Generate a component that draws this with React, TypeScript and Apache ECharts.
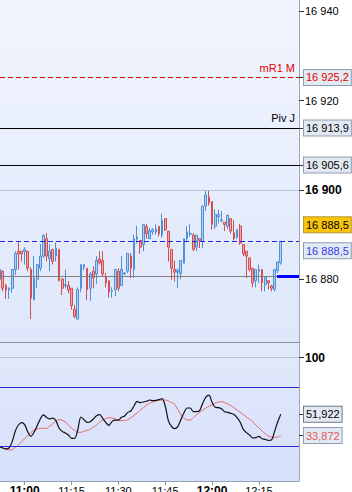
import React, { useEffect, useRef } from 'react';
import * as echarts from 'echarts';

const FONT = "'Liberation Sans', Arial, sans-serif";

const times = [
  '10:52','10:53','10:54','10:55','10:56','10:57','10:58','10:59',
  '11:00','11:01','11:02','11:03','11:04','11:05','11:06','11:07','11:08','11:09',
  '11:10','11:11','11:12','11:13','11:14','11:15','11:16','11:17','11:18','11:19',
  '11:20','11:21','11:22','11:23','11:24','11:25','11:26','11:27','11:28','11:29',
  '11:30','11:31','11:32','11:33','11:34','11:35','11:36','11:37','11:38','11:39',
  '11:40','11:41','11:42','11:43','11:44','11:45','11:46','11:47','11:48','11:49',
  '11:50','11:51','11:52','11:53','11:54','11:55','11:56','11:57','11:58','11:59',
  '12:00','12:01','12:02','12:03','12:04','12:05','12:06','12:07','12:08','12:09',
  '12:10','12:11','12:12','12:13','12:14','12:15','12:16','12:17','12:18','12:19',
  '12:20','12:21','12:22'
];

const opens = [16880.0,16881.8,16878.6,16877.6,16878.0,16882.2,16886.3,16886.3,16886.2,16886.3,
16882.2,16875.4,16880.0,16882.5,16885.2,16889.1,16884.6,16886.7,16885.2,16886.7,
16880.1,16878.6,16878.6,16878.0,16873.3,16871.1,16878.0,16882.7,16882.5,16878.0,
16881.8,16881.2,16884.6,16884.2,16880.5,16879.7,16877.3,16877.7,16881.8,16878.6,
16881.2,16881.8,16885.2,16882.2,16889.0,16888.7,16887.8,16891.8,16889.1,16890.6,
16890.6,16891.9,16889.9,16893.6,16890.8,16886.7,16882.2,16881.6,16881.3,16883.6,
16889.1,16890.1,16889.9,16887.2,16889.1,16888.5,16896.4,16898.4,16897.4,16891.9,
16894.0,16893.1,16892.8,16891.9,16893.6,16890.4,16889.4,16891.9,16887.8,16886.3,
16884.8,16882.5,16879.7,16881.8,16882.2,16878.8,16879.7,16878.5,16877.7,16882.0,
16883.7];

const closes = [16882.2,16878.0,16877.6,16878.0,16882.2,16885.8,16885.7,16885.7,16886.7,16882.5,
16875.8,16880.3,16883.3,16885.2,16889.9,16885.2,16886.3,16884.0,16887.0,16879.7,
16878.0,16878.8,16877.6,16874.1,16871.7,16877.7,16883.3,16883.3,16877.7,16881.2,
16880.4,16884.2,16883.7,16881.2,16879.2,16877.1,16877.5,16882.2,16878.0,16882.2,
16881.4,16885.8,16882.5,16889.1,16889.5,16887.2,16892.3,16890.2,16890.8,16891.1,
16891.3,16890.2,16893.2,16891.1,16887.2,16882.5,16881.6,16882.0,16884.2,16889.1,
16890.6,16890.3,16886.7,16889.9,16888.7,16896.4,16898.9,16897.1,16892.3,16894.5,
16894.5,16893.3,16892.3,16894.3,16890.8,16889.1,16891.1,16888.1,16885.7,16885.2,
16882.2,16879.2,16882.2,16882.2,16879.2,16880.4,16879.2,16878.0,16882.2,16883.9,
16888.5];

const lows = [16878.0,16877.3,16875.6,16875.6,16877.0,16881.0,16882.2,16884.0,16883.3,16881.8,
16871.1,16875.4,16878.0,16881.8,16884.8,16884.0,16881.8,16883.3,16884.0,16879.6,
16876.5,16878.0,16876.9,16873.2,16871.3,16871.1,16877.1,16882.0,16875.4,16875.2,
16878.0,16879.0,16883.3,16880.7,16878.2,16875.9,16875.9,16876.2,16877.3,16878.6,
16881.0,16881.4,16880.3,16880.3,16888.0,16885.7,16886.3,16889.1,16889.0,16890.0,
16890.0,16889.6,16889.3,16890.8,16884.0,16879.9,16879.5,16878.0,16880.0,16883.6,
16888.5,16889.5,16886.3,16886.3,16887.0,16887.0,16895.3,16896.5,16891.1,16891.2,
16892.5,16892.8,16890.8,16891.3,16890.2,16888.7,16889.0,16887.7,16885.2,16880.3,
16881.8,16878.2,16878.2,16879.2,16877.3,16877.3,16877.7,16877.3,16877.3,16881.4,
16883.3];

const highs = [16882.4,16882.0,16879.0,16878.2,16882.2,16886.3,16888.3,16886.3,16887.2,16886.3,
16882.7,16885.2,16883.3,16887.9,16889.9,16890.4,16887.9,16886.7,16888.3,16886.7,
16880.1,16882.2,16879.6,16878.0,16874.3,16878.2,16883.3,16883.5,16882.5,16881.6,
16882.9,16885.2,16886.3,16886.3,16881.4,16879.7,16878.2,16882.2,16882.5,16885.2,
16881.6,16885.8,16885.9,16890.0,16892.0,16888.7,16892.3,16892.4,16891.5,16891.5,
16892.3,16891.9,16894.7,16893.6,16890.8,16886.7,16884.2,16882.4,16884.2,16889.1,
16891.9,16892.3,16890.4,16889.9,16889.1,16896.4,16900.0,16900.0,16897.4,16895.6,
16895.6,16895.3,16892.8,16894.5,16893.6,16893.2,16891.1,16892.4,16887.8,16886.3,
16884.8,16882.5,16882.2,16883.3,16882.2,16880.5,16879.7,16878.8,16882.2,16883.9,
16888.5];

const oscFast = [24.4,23.3,22.5,23.3,28.7,37.7,42.8,44.8,43.1,36.9,
33.2,36.6,42.2,47.9,51.3,49.3,47.9,48.7,46.5,40.3,
37.4,36.0,34.3,31.5,31.5,38.8,49.6,47.3,45.1,45.6,
47.9,50.7,51.6,48.4,44.8,42.5,45.9,47.0,47.0,49.3,
50.4,53.5,54.7,58.9,62.9,61.7,62.3,62.9,64.0,63.4,
63.7,64.3,65.1,58.9,46.5,41.7,39.7,41.4,47.3,53.2,
57.2,57.2,54.1,54.1,54.9,61.2,66.5,68.2,62.0,57.8,
57.5,56.6,54.1,53.5,52.7,51.6,49.0,45.1,39.1,36.3,
34.3,31.8,32.1,33.2,31.2,30.6,29.8,30.1,37.2,45.3,
51.922];

const oscSlow = [24.4,23.3,22.2,21.6,21.9,23.9,25.8,28.7,31.2,33.75,
36.3,38.6,39.4,40.0,40.0,40.0,41.95,43.6,46.5,47.3,
46.8,45.3,42.8,40.0,38.3,36.6,36.6,37.4,38.3,39.1,
41.1,42.8,45.3,47.0,48.4,49.0,48.7,47.9,47.0,46.5,
46.5,47.3,49.0,51.0,53.0,55.2,57.5,59.7,61.2,62.3,
63.1,63.7,64.0,64.0,63.1,62.0,60.3,56.1,51.5,48.4,
47.0,47.0,49.0,51.5,53.5,55.5,57.2,58.6,60.0,61.4,
62.3,62.6,61.7,60.6,59.2,57.5,55.5,53.5,51.5,49.6,
47.6,45.6,42.8,40.3,37.7,35.4,33.5,32.6,32.3,32.6,
33.872];

const xTickLabels = ['11:00', '11:15', '11:30', '11:45', '12:00', '12:15'];
const xBoldLabels = ['11:00', '12:00'];
const priceTicks = [16880, 16900, 16920, 16940];
const priceBoldTicks = [16900];
const oscTicks = [100];
const oscBands = [75, 25];

const levelMR1 = 16925.2;
const levelPiv = 16913.9;
const levelThird = 16905.6;
const levelLast = 16888.5;
const levelRef = 16880.8;
const levelNames = ['mR1 M', 'Piv J'];
const barStartTime = '12:22';

const toMin = (s: string) => {
  const [h, m] = s.split(':').map(Number);
  return h * 60 + m - 660;
};
const fmtNum = (v: number, d: number) => {
  const s = v.toFixed(d);
  const [i, f] = s.split('.');
  const ii = i.replace(/\B(?=(\d{3})+(?!\d))/g, ' ');
  return f ? ii + ',' + f : ii;
};

const XMIN = -7.9;
const XMAX = 87.83;
const YMIN = 16865.97;
const YMAX = 16942.53;
const PX_PER_PT = 342 / (YMAX - YMIN);
const OMIN = -4.66;
const OMAX = 113.14;
const HIDDEN = 'rgba(0,0,0,0)';

const boxLabel = (text: string, color: string, bg = '#e3e9f2', border = '#8d9db2') => ({
  show: true,
  position: 'end',
  distance: 5,
  formatter: text,
  color,
  fontFamily: FONT,
  fontSize: 11,
  lineHeight: 12,
  padding: [2, 2, 1, 2],
  backgroundColor: bg,
  borderColor: border,
  borderWidth: 1,
});

const nameLabel = (text: string, color: string) => ({
  show: true,
  position: 'insideEndTop',
  distance: 4,
  formatter: text,
  color,
  fontFamily: FONT,
  fontSize: 11,
});

export default function App() {
  const ref = useRef<HTMLDivElement>(null);
  useEffect(() => {
    const chart = echarts.init(ref.current!, null, { renderer: 'svg' });
    const candleData = times.map((t, i) => [toMin(t), opens[i], closes[i], lows[i], highs[i]]);
    const fastData = times.map((t, i) => [toMin(t), oscFast[i]]);
    const slowData = times.map((t, i) => [toMin(t), oscSlow[i]]);
    const lastFast = oscFast[oscFast.length - 1];
    const lastSlow = oscSlow[oscSlow.length - 1];
    const priceTickVals = [...priceTicks, levelMR1, levelPiv, levelThird];
    // label boxes for the last price are pushed apart so they do not overlap
    const yellowAnchor = levelLast + 16.5 / PX_PER_PT;
    const blueAnchor = levelLast - 9.5 / PX_PER_PT;

    const option: any = {
      animation: false,
      textStyle: { fontFamily: FONT },
      grid: [
        {
          left: 0, top: 0, width: 299, height: 342, show: true, borderWidth: 0,
          containLabel: false, outerBoundsMode: 'none',
          backgroundColor: { type: 'linear', x: 0, y: 0, x2: 0, y2: 1, colorStops: [
            { offset: 0, color: '#f1f5fe' }, { offset: 1, color: '#dee7fb' }] },
        },
        {
          left: 0, top: 342, width: 299, height: 139, show: true, borderWidth: 0,
          containLabel: false, outerBoundsMode: 'none',
          backgroundColor: { type: 'linear', x: 0, y: 0, x2: 0, y2: 1, colorStops: [
            { offset: 0, color: '#e2e9fb' }, { offset: 1, color: '#d6e0fa' }] },
        },
      ],
      xAxis: [
        {
          type: 'value', gridIndex: 0, min: XMIN, max: XMAX,
          axisLine: { show: true, onZero: false, lineStyle: { color: '#8c939c', width: 1 } },
          axisTick: { show: false }, axisLabel: { show: false }, splitLine: { show: false },
        },
        {
          type: 'value', gridIndex: 1, min: XMIN, max: XMAX,
          axisLine: { show: true, onZero: false, lineStyle: { color: '#97a2b2', width: 1 } },
          axisTick: { show: true, length: 4, customValues: xTickLabels.map(toMin), lineStyle: { color: '#8a94a4' } },
          axisLabel: {
            show: true, margin: 4, fontSize: 11, color: '#000', fontFamily: FONT,
            customValues: xTickLabels.map(toMin),
            formatter: (v: number) => {
              const lab = xTickLabels.find((s) => toMin(s) === Math.round(v)) || '';
              return xBoldLabels.includes(lab) ? `{b|${lab}}` : lab;
            },
            rich: { b: { fontWeight: 'bold', fontSize: 12, fontFamily: FONT, color: '#000' } },
          },
          splitLine: { show: false },
        },
      ],
      yAxis: [
        {
          type: 'value', gridIndex: 0, position: 'right', min: YMIN, max: YMAX,
          axisLine: { show: true, onZero: false, lineStyle: { color: '#9ca6b4', width: 1 } },
          axisTick: { show: true, length: 5, customValues: priceTickVals, lineStyle: { color: '#333' } },
          axisLabel: {
            show: true, margin: 6, fontSize: 11, color: '#000', fontFamily: FONT,
            customValues: priceTicks,
            formatter: (v: number) => priceBoldTicks.includes(Math.round(v)) ? `{b|${fmtNum(v, 0)}}` : fmtNum(v, 0),
            rich: { b: { fontWeight: 'bold', fontSize: 12, fontFamily: FONT, color: '#000' } },
          },
          splitLine: { show: false },
        },
        {
          type: 'value', gridIndex: 1, position: 'right', min: OMIN, max: OMAX,
          axisLine: { show: true, onZero: false, lineStyle: { color: '#9ca6b4', width: 1 } },
          axisTick: { show: true, length: 5, customValues: [...oscTicks, lastFast, lastSlow], lineStyle: { color: '#333' } },
          axisLabel: {
            show: true, margin: 6, fontSize: 12, fontWeight: 'bold', color: '#000', fontFamily: FONT,
            customValues: oscTicks,
            formatter: (v: number) => fmtNum(v, 0),
          },
          splitLine: { show: false },
        },
      ],
      series: [
        {
          type: 'candlestick',
          xAxisIndex: 0, yAxisIndex: 0,
          data: candleData,
          encode: { x: 0, y: [1, 2, 3, 4] },
          barWidth: 2.2,
          clip: true,
          itemStyle: {
            color: '#b4d0f2', color0: '#f2a5a5',
            borderColor: '#4f8fd6', borderColor0: '#d34f4f', borderWidth: 1,
          },
          markLine: {
            silent: true, symbol: ['none', 'none'], animation: false,
            label: { show: false },
            data: [
              { yAxis: 16900, lineStyle: { color: '#b6c1d5', width: 1, type: 'solid' }, label: { show: false } },
              { yAxis: levelRef, lineStyle: { color: '#7f7f7f', width: 1, type: 'solid' }, label: { show: false } },
              { yAxis: levelMR1, lineStyle: { color: '#e60000', width: 1, type: [5, 3] }, label: boxLabel(fmtNum(levelMR1, 1), '#e60000') },
              { yAxis: levelMR1, lineStyle: { color: '#e60000', width: 1, type: [5, 3] }, label: nameLabel(levelNames[0], '#e60000') },
              { yAxis: levelPiv, lineStyle: { color: '#000', width: 1, type: 'solid' }, label: boxLabel(fmtNum(levelPiv, 1), '#000') },
              { yAxis: levelPiv, lineStyle: { color: '#000', width: 1, type: 'solid' }, label: nameLabel(levelNames[1], '#000') },
              { yAxis: levelThird, lineStyle: { color: '#000', width: 1, type: 'solid' }, label: boxLabel(fmtNum(levelThird, 1), '#000') },
              { yAxis: levelLast, lineStyle: { color: '#2323e6', width: 1, type: [5, 3] }, label: { show: false } },
              { yAxis: blueAnchor, lineStyle: { color: HIDDEN, width: 0 }, label: boxLabel(fmtNum(levelLast, 1), '#3a3aee') },
              { yAxis: yellowAnchor, lineStyle: { color: HIDDEN, width: 0 }, label: boxLabel(fmtNum(levelLast, 1), '#000', '#f8c40c', '#b9982e') },
              [
                { coord: [toMin(barStartTime) - 1.2, levelRef], lineStyle: { color: '#0000ff', width: 3, type: 'solid' } },
                { coord: [XMAX, levelRef] },
              ],
            ],
          },
        },
        {
          type: 'line', xAxisIndex: 1, yAxisIndex: 1,
          data: slowData, symbol: 'none', smooth: 0.3,
          lineStyle: { color: '#e56b6b', width: 1 },
          z: 3,
          markLine: {
            silent: true, symbol: ['none', 'none'],
            data: [
              { yAxis: oscTicks[0], lineStyle: { color: '#b6bed6', width: 1, type: 'solid' }, label: { show: false } },
              { yAxis: oscBands[0], lineStyle: { color: '#2b2bd6', width: 1, type: 'solid' }, label: { show: false } },
              { yAxis: oscBands[1], lineStyle: { color: '#2b2bd6', width: 1, type: 'solid' }, label: { show: false } },
              { yAxis: lastSlow, lineStyle: { color: HIDDEN, width: 0 }, label: boxLabel(fmtNum(lastSlow, 3), '#e05a5a') },
            ],
          },
        },
        {
          type: 'line', xAxisIndex: 1, yAxisIndex: 1,
          data: fastData, symbol: 'none', smooth: 0.3,
          lineStyle: { color: '#111', width: 1.2 },
          z: 4,
          markLine: {
            silent: true, symbol: ['none', 'none'],
            data: [
              { yAxis: lastFast, lineStyle: { color: HIDDEN, width: 0 }, label: boxLabel(fmtNum(lastFast, 3), '#000', '#e3e9f2', '#6f7884') },
            ],
          },
        },
      ],
    };
    chart.setOption(option);
    return () => chart.dispose();
  }, []);
  return <div ref={ref} style={{ position: 'absolute', left: 0, top: 0, width: 352, height: 492 }} />;
}
